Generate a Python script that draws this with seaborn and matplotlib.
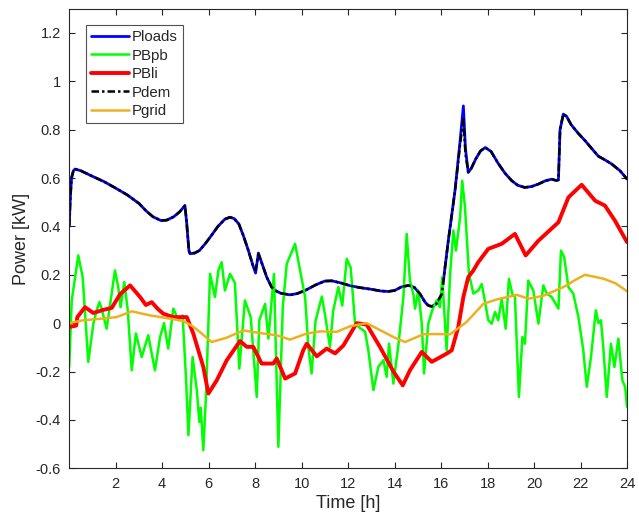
import matplotlib

matplotlib.use("Agg")
import matplotlib.pyplot as plt
import seaborn as sns

# Ploads / Pdem (kW) over time (h)
t_load = [0.0, 0.05, 0.1, 0.18, 0.25, 0.5, 1.0, 1.5, 2.0, 2.5, 3.0, 3.3, 3.6, 3.95,
          4.2, 4.5, 4.75, 4.98, 5.05, 5.15, 5.2, 5.4, 5.6, 5.85, 6.1, 6.4, 6.7,
          6.92, 7.1, 7.3, 7.5, 7.71, 7.9, 8.02, 8.14, 8.3, 8.5, 8.71, 8.9, 9.1, 9.5,
          9.8, 10.15, 10.6, 11.0, 11.3, 11.7, 12.08, 12.5, 13.0, 13.4, 13.73, 14.0,
          14.3, 14.6, 14.85, 15.1, 15.31, 15.45, 15.6, 15.8, 16.03, 16.31, 16.6,
          16.82, 16.96, 17.05, 17.17, 17.3, 17.5, 17.7, 17.9, 18.15, 18.46, 18.75,
          19.04, 19.3, 19.6, 19.9, 20.19, 20.5, 20.76, 20.95, 21.05, 21.12, 21.26,
          21.4, 21.6, 21.9, 22.2, 22.5, 22.77, 23.05, 23.34, 23.7, 24.0]
p_loads = [0.40, 0.52, 0.60, 0.63, 0.637, 0.63, 0.607, 0.585, 0.558, 0.53, 0.495,
           0.465, 0.44, 0.424, 0.426, 0.44, 0.46, 0.486, 0.42, 0.30, 0.287, 0.29,
           0.30, 0.328, 0.36, 0.40, 0.43, 0.438, 0.432, 0.41, 0.36, 0.30, 0.24,
           0.207, 0.29, 0.245, 0.19, 0.149, 0.133, 0.124, 0.117, 0.122, 0.135,
           0.158, 0.174, 0.175, 0.166, 0.155, 0.147, 0.14, 0.133, 0.131, 0.135,
           0.15, 0.156, 0.148, 0.12, 0.087, 0.073, 0.069, 0.08, 0.12, 0.34, 0.548,
           0.754, 0.898, 0.72, 0.623, 0.64, 0.68, 0.712, 0.726, 0.71, 0.66, 0.62,
           0.589, 0.57, 0.561, 0.565, 0.575, 0.589, 0.595, 0.59, 0.592, 0.80,
           0.864, 0.855, 0.82, 0.785, 0.754, 0.72, 0.69, 0.675, 0.658, 0.63, 0.596]
p_dem = [0.40, 0.52, 0.60, 0.63, 0.637, 0.63, 0.607, 0.585, 0.558, 0.53, 0.495,
         0.465, 0.44, 0.424, 0.426, 0.44, 0.46, 0.486, 0.42, 0.30, 0.287, 0.29,
         0.30, 0.328, 0.36, 0.40, 0.43, 0.438, 0.432, 0.41, 0.36, 0.30, 0.24,
         0.22, 0.285, 0.245, 0.19, 0.149, 0.133, 0.124, 0.117, 0.122, 0.135,
         0.158, 0.174, 0.175, 0.166, 0.155, 0.147, 0.14, 0.133, 0.131, 0.135,
         0.15, 0.156, 0.148, 0.12, 0.087, 0.073, 0.069, 0.08, 0.12, 0.34, 0.548,
         0.74, 0.843, 0.70, 0.625, 0.64, 0.68, 0.712, 0.726, 0.71, 0.66, 0.62,
         0.589, 0.57, 0.561, 0.565, 0.575, 0.589, 0.595, 0.59, 0.592, 0.80,
         0.864, 0.855, 0.82, 0.785, 0.754, 0.72, 0.69, 0.675, 0.658, 0.63, 0.596]

# PBpb - lead battery power
t_pb = [0.0, 0.11, 0.39, 0.58, 0.82, 1.04, 1.18, 1.3, 1.39, 1.61, 1.97, 2.11, 2.21,
        2.37, 2.52, 2.69, 2.87, 3.12, 3.4, 3.69, 3.91, 4.08, 4.26, 4.48, 4.7, 4.88,
        5.03, 5.13, 5.31, 5.49, 5.6, 5.66, 5.77, 5.89, 6.06, 6.27, 6.42, 6.56, 6.7,
        6.92, 7.13, 7.32, 7.56, 7.81, 8.07, 8.18, 8.43, 8.57, 8.81, 9.0, 9.19, 9.36,
        9.57, 9.72, 10.15, 10.29, 10.43, 10.6, 10.87, 11.0, 11.22, 11.36, 11.58,
        11.75, 11.94, 12.11, 12.3, 12.51, 12.73, 12.87, 13.09, 13.3, 13.52, 13.66,
        13.76, 13.95, 14.17, 14.38, 14.52, 14.66, 14.81, 14.88, 15.02, 15.17, 15.27,
        15.45, 15.62, 15.81, 15.95, 16.05, 16.24, 16.39, 16.53, 16.64, 16.82, 16.91,
        17.03, 17.2, 17.39, 17.6, 17.75, 17.89, 18.03, 18.18, 18.32, 18.46, 18.61,
        18.78, 18.92, 19.07, 19.18, 19.35, 19.5, 19.61, 19.75, 19.97, 20.19, 20.4,
        20.55, 20.76, 21.05, 21.16, 21.3, 21.48, 21.69, 21.91, 22.12, 22.27, 22.45,
        22.66, 22.77, 22.88, 22.98, 23.13, 23.31, 23.46, 23.63, 23.8, 23.92, 24.0]
p_bpb = [-0.181, 0.094, 0.28, 0.19, -0.16, -0.002, 0.053, 0.087, 0.062, -0.023,
         0.218, 0.149, 0.066, 0.17, 0.053, -0.195, -0.043, -0.14, -0.05, -0.195,
         -0.057, 0.0, -0.105, 0.06, 0.012, 0.032, -0.236, -0.463, -0.14, -0.277,
         -0.408, -0.35, -0.525, -0.291, 0.204, 0.108, 0.218, 0.252, 0.135, 0.204,
         0.166, -0.188, 0.094, 0.025, -0.305, 0.012, 0.08, -0.064, 0.204, -0.511,
         0.066, 0.245, 0.294, 0.328, 0.108, -0.098, -0.208, 0.01, 0.11, 0.039,
         -0.098, 0.052, 0.149, 0.073, 0.266, 0.23, -0.002, -0.02, -0.035, -0.112,
         -0.277, -0.181, -0.153, -0.222, -0.085, -0.25, -0.085, 0.108, 0.369,
         0.176, 0.119, 0.06, 0.135, -0.002, -0.208, -0.002, 0.053, 0.094, 0.066,
         0.19, -0.112, 0.204, 0.383, 0.3, 0.438, 0.589, 0.479, 0.204, 0.122, 0.135,
         0.162, 0.09, 0.012, -0.002, 0.046, 0.012, 0.1, -0.023, 0.183, 0.12, 0.108,
         -0.305, -0.057, -0.085, 0.176, 0.135, -0.002, 0.156, 0.122, 0.108, 0.06,
         0.3, 0.272, 0.149, 0.122, 0.025, -0.112, -0.263, -0.14, 0.053, 0.0, 0.012,
         -0.1, -0.305, -0.085, -0.181, -0.064, -0.236, -0.263, -0.346]

# PBli - lithium battery power
t_li = [0.0, 0.3, 0.35, 0.68, 1.04, 1.47, 1.83, 2.19, 2.62, 3.05, 3.3, 3.55, 3.8,
        4.05, 4.48, 5.06, 5.34, 5.77, 5.99, 6.35, 6.78, 7.35, 7.64, 7.92, 8.28,
        8.78, 8.93, 9.29, 9.72, 10.07, 10.22, 10.65, 11.08, 11.44, 11.8, 12.37,
        12.8, 13.37, 13.95, 14.35, 14.66, 15.17, 15.6, 16.24, 16.46, 16.74, 16.96,
        17.17, 17.39, 17.6, 18.03, 18.61, 19.18, 19.64, 20.19, 21.05, 21.48, 22.05,
        22.63, 23.05, 23.48, 24.0]
p_bli = [-0.016, -0.01, 0.025, 0.066, 0.042, 0.055, 0.063, 0.12, 0.156, 0.108,
         0.075, 0.087, 0.06, 0.039, 0.025, 0.025, -0.043, -0.181, -0.291, -0.236,
         -0.153, -0.074, -0.098, -0.098, -0.167, -0.167, -0.146, -0.229, -0.208,
         -0.112, -0.085, -0.137, -0.105, -0.125, -0.092, 0.0, -0.006, -0.098, -0.2,
         -0.257, -0.195, -0.119, -0.16, -0.126, -0.112, -0.016, 0.108, 0.19, 0.218,
         0.252, 0.307, 0.328, 0.369, 0.28, 0.341, 0.417, 0.52, 0.572, 0.506, 0.486,
         0.424, 0.335]

# Pgrid
t_grid = [0.0, 0.6, 1.33, 2.04, 2.69, 3.48, 4.2, 4.91, 5.3, 5.63, 6.13, 6.78, 7.49,
          8.21, 8.93, 9.5, 10.22, 10.8, 11.51, 12.08, 12.8, 13.52, 14.0, 14.45,
          15.24, 15.8, 16.39, 17.1, 17.82, 18.4, 19.26, 19.76, 20.4, 21.26, 21.8,
          22.19, 22.98, 23.5, 24.0]
p_grid = [0.0, 0.012, 0.018, 0.025, 0.049, 0.032, 0.021, 0.009, -0.012, -0.037,
          -0.078, -0.06, -0.03, -0.041, -0.05, -0.068, -0.043, -0.034, -0.036,
          -0.013, 0.0, -0.036, -0.06, -0.078, -0.046, -0.045, -0.046, 0.005, 0.08,
          0.098, 0.117, 0.101, 0.113, 0.149, 0.18, 0.2, 0.184, 0.165, 0.132]

x_ticks = [2, 4, 6, 8, 10, 12, 14, 16, 18, 20, 22, 24]
y_ticks = [-0.6, -0.4, -0.2, 0, 0.2, 0.4, 0.6, 0.8, 1, 1.2]
y_tick_labels = ["-0.6", "-0.4", "-0.2", "0", "0.2", "0.4", "0.6", "0.8", "1", "1.2"]

INK = "#262626"


def setup_style():
    sns.set_theme(style="white")
    plt.rcParams.update({
        "font.family": ["Liberation Sans", "DejaVu Sans"],
        "axes.edgecolor": INK,
        "axes.linewidth": 0.8,
        "xtick.color": INK,
        "ytick.color": INK,
    })


def main():
    setup_style()
    fig = plt.figure(figsize=(6.39, 5.23), dpi=100)
    ax = fig.add_axes([0.1083, 0.1046, 0.8729, 0.8788])

    common = dict(ax=ax, estimator=None, sort=False)
    sns.lineplot(x=t_load, y=p_loads, color="#0000FF", lw=2, label="Ploads", **common)
    sns.lineplot(x=t_pb, y=p_bpb, color="#00FF00", lw=1.8, label="PBpb", **common)
    sns.lineplot(x=t_li, y=p_bli, color="#FF0000", lw=2.8, label="PBli", **common)
    sns.lineplot(x=t_load, y=p_dem, color="black", lw=1.8,
                 linestyle=(0, (3, 1.2, 1, 1.2)), label="Pdem", **common)
    sns.lineplot(x=t_grid, y=p_grid, color="#EDB120", lw=1.8, label="Pgrid", **common)

    ax.set_xlim(0, 24)
    ax.set_ylim(-0.6, 1.3)
    ax.set_xticks(x_ticks)
    ax.set_yticks(y_ticks)
    ax.set_yticklabels(y_tick_labels)
    ax.tick_params(direction="in", length=4, width=0.8, labelsize=10.5,
                   top=True, right=True, bottom=True, left=True, pad=6)
    ax.set_xlabel("Time [h]", fontsize=13, color=INK, labelpad=3)
    ax.set_ylabel("Power [kW]", fontsize=13, color=INK, labelpad=4)
    for spine in ax.spines.values():
        spine.set_visible(True)

    leg = ax.legend(loc="upper left", bbox_to_anchor=(0.03, 0.965), borderaxespad=0,
                    fontsize=10.8, handlelength=2.5, handletextpad=0.22,
                    labelspacing=0.3, borderpad=0.35, frameon=True, fancybox=False)
    leg.get_frame().set_edgecolor(INK)
    leg.get_frame().set_linewidth(0.8)

    fig.savefig("out.png", dpi=100)
    plt.close(fig)


if __name__ == "__main__":
    main()
